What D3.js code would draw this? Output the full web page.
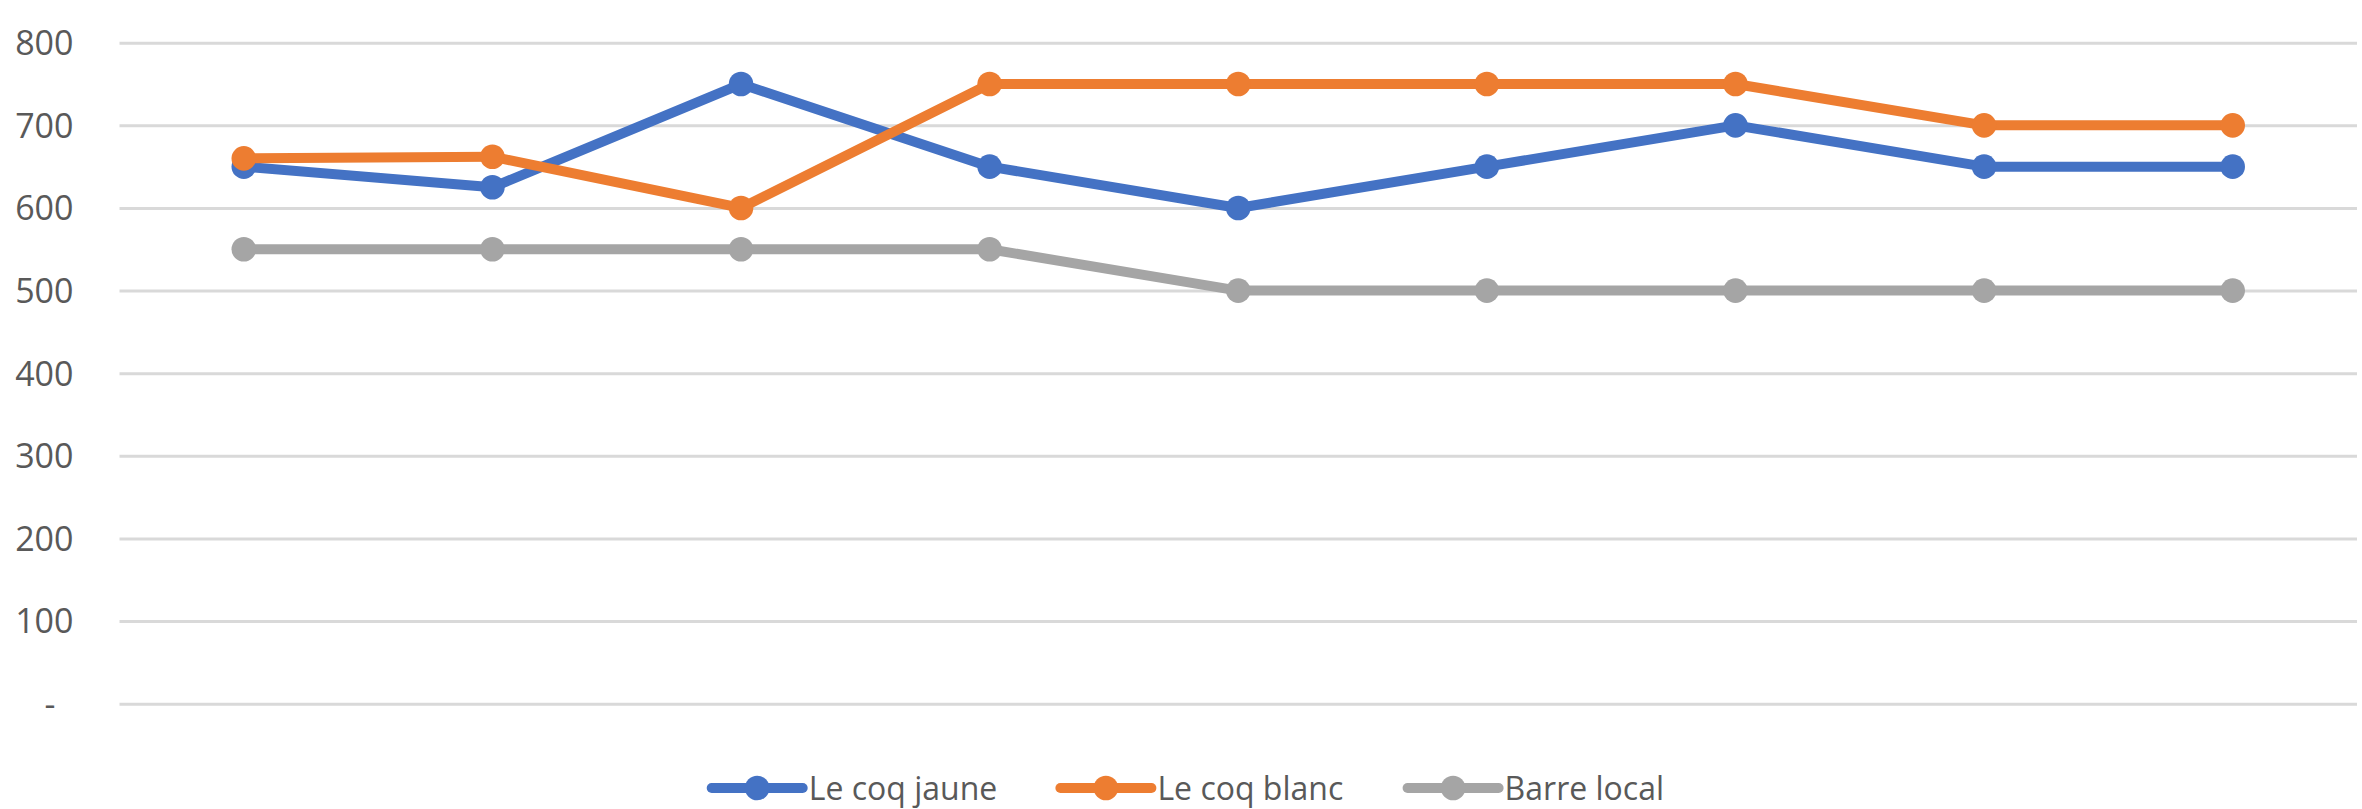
<!DOCTYPE html>
<html><head><meta charset="utf-8">
<script src="https://cdn.jsdelivr.net/npm/d3@7"></script>
<style>html,body{margin:0;padding:0;background:#fff;}svg{display:block;}</style>
</head><body>
<script>
const categories = ["1","2","3","4","5","6","7","8","9"];
const seriesNames = ["Le coq jaune","Le coq blanc","Barre local"];
const coqJaune = [650, 625, 750, 650, 600, 650, 700, 650, 650];
const coqBlanc = [660, 662, 600, 750, 750, 750, 750, 700, 700];
const barreLocal = [550, 550, 550, 550, 500, 500, 500, 500, 500];
const yTicks = [0, 100, 200, 300, 400, 500, 600, 700, 800];
const colors = ["#4472C4", "#ED7D31", "#A5A5A5"];

(function () {
const W = 2362, H = 809;
const mLeft = 119.5, mRight = 2357, mTop = 42.7, mBottom = 703.7;
const svg = d3.select("body").append("svg").attr("width", W).attr("height", H);

const x = d3.scaleBand().domain(categories).range([mLeft, mRight]);
const y = d3.scaleLinear().domain([0, 800]).range([mBottom, mTop]);

const yAxis = d3.axisLeft(y).tickValues(yTicks).tickSize(-(mRight - mLeft)).tickFormat(d => d === 0 ? "-" : d3.format("d")(d));
const gAx = svg.append("g").attr("transform", `translate(${mLeft},0)`).call(yAxis);
gAx.select(".domain").remove();
gAx.selectAll(".tick line").attr("stroke", "#d9d9d9").attr("stroke-width", 3);
gAx.selectAll(".tick text")
  .attr("x", d => d === 0 ? -64 : -46)
  .attr("dy", "0.35em")
  .attr("fill", "#595959")
  .style("font-family", "'Open Sans', sans-serif")
  .style("font-size", "34px");

const data = [coqJaune, coqBlanc, barreLocal];
const line = d3.line().x((d, i) => x(categories[i]) + x.bandwidth() / 2).y(d => y(d));

[2, 0, 1].forEach(si => {
  const g = svg.append("g");
  g.append("path").datum(data[si]).attr("d", line).attr("fill", "none")
    .attr("stroke", colors[si]).attr("stroke-width", 10).attr("stroke-linejoin", "round").attr("stroke-linecap", "round");
  g.selectAll("circle").data(data[si]).join("circle")
    .attr("cx", (d, i) => x(categories[i]) + x.bandwidth() / 2)
    .attr("cy", d => y(d))
    .attr("r", 12.3)
    .attr("fill", colors[si]);
});

const legendX = [711.7, 1060.4, 1407.6];
const legendY = 788;
seriesNames.forEach((name, i) => {
  const g = svg.append("g").attr("transform", `translate(${legendX[i]},${legendY})`);
  g.append("line").attr("x1", 0).attr("x2", 91).attr("y1", 0).attr("y2", 0)
    .attr("stroke", colors[i]).attr("stroke-width", 10).attr("stroke-linecap", "round");
  g.append("circle").attr("cx", 45.5).attr("cy", 0).attr("r", 12.3).attr("fill", colors[i]);
  g.append("text").attr("x", 97).attr("y", 0).attr("dy", "0.36em")
    .attr("fill", "#595959")
    .style("font-family", "'Open Sans', sans-serif")
    .style("font-size", "32px")
    .text(name);
});
})();
</script>
</body></html>
